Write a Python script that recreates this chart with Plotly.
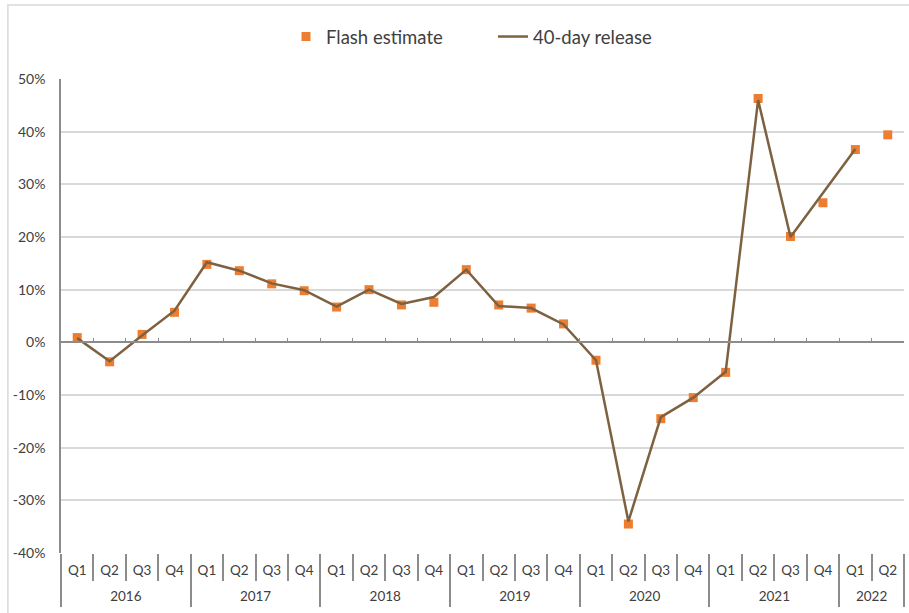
import plotly.graph_objects as go

years = ["2016"] * 4 + ["2017"] * 4 + ["2018"] * 4 + ["2019"] * 4 + ["2020"] * 4 + ["2021"] * 4 + ["2022"] * 2
quarters = ["Q1", "Q2", "Q3", "Q4"] * 6 + ["Q1", "Q2"]

flash_estimate = [0.9, -3.7, 1.5, 5.7, 14.8, 13.6, 11.1, 9.8, 6.7, 10.0, 7.1, 7.6,
                  13.8, 7.1, 6.5, 3.5, -3.4, -34.5, -14.5, -10.5, -5.7, 46.3, 20.1, 26.5,
                  36.6, 39.4]
release_40day = [0.8, -3.6, 1.3, 6.0, 15.2, 13.6, 11.2, 9.9, 6.8, 10.0, 7.3, 8.6,
                 13.8, 6.9, 6.5, 3.4, -3.4, -34.0, -14.2, -10.5, -5.6, 46.0, 20.0, 28.3,
                 36.7]

y_tickvals = [-40, -30, -20, -10, 0, 10, 20, 30, 40, 50]
y_ticktext = ["-40%", "-30%", "-20%", "-10%", "0%", "10%", "20%", "30%", "40%", "50%"]

n = len(quarters)
idx = list(range(n))
q_bounds = [i - 0.5 for i in range(n + 1)]

# year groups
year_names, year_mid, year_bounds = [], [], [-0.5]
start = 0
for i in range(1, n + 1):
    if i == n or years[i] != years[start]:
        year_names.append(years[start])
        year_mid.append((start + i - 1) / 2)
        year_bounds.append(i - 0.5)
        start = i

FONT = "Lato"
TXT = "#404040"
AX = "#8c8c8c"
GRID = "#d9d9d9"
XR = [-0.5, n - 0.5]

fig = go.Figure()

# invisible helper trace so that the year-row axis is drawn
fig.add_trace(go.Scatter(
    x=idx, y=flash_estimate, mode="markers", marker=dict(opacity=0, size=1),
    xaxis="x3", yaxis="y", showlegend=False, hoverinfo="skip",
))

fig.add_trace(go.Scatter(
    x=idx[:len(release_40day)], y=release_40day, mode="lines", name="40-day release",
    line=dict(color="#7E6140", width=2.5),
    xaxis="x2", yaxis="y",
))

fig.add_trace(go.Scatter(
    x=idx, y=flash_estimate, mode="markers", name="Flash estimate",
    marker=dict(symbol="square", size=9, color="#ED7D31"),
    xaxis="x", yaxis="y",
))

fig.update_layout(
    width=909, height=613,
    margin=dict(l=61, r=5, t=79, b=60, autoexpand=False),
    paper_bgcolor="white", plot_bgcolor="white",
    font=dict(family=FONT, size=13, color=TXT),
    showlegend=True,
    legend=dict(orientation="h", x=(286 - 61) / 843, xanchor="left", y=1 + (79 - 37) / 474,
                yanchor="middle", font=dict(size=18.5, color=TXT), traceorder="reversed",
                entrywidth=162, entrywidthmode="pixels"),
    # quarter row
    xaxis=dict(
        range=XR, automargin=False,
        showgrid=False, showline=False, zeroline=False,
        tickmode="array", tickvals=idx, ticktext=quarters, ticks="",
        ticklabelstandoff=7,
        tickfont=dict(family=FONT, size=13.5, color=TXT),
        minor=dict(tickmode="array", tickvals=q_bounds, ticks="outside", ticklen=27,
                   tickcolor=AX, tickwidth=1.5, showgrid=False),
    ),
    # axis line at zero with small inward ticks
    xaxis2=dict(
        overlaying="x", anchor="free", position=4 / 9,
        range=XR, automargin=False,
        showgrid=False, showticklabels=False, showline=True, linecolor=AX, linewidth=1.5,
        tickmode="array", tickvals=q_bounds, ticks="inside", ticklen=4, tickcolor=AX, tickwidth=1,
        zeroline=False,
    ),
    # year row
    xaxis3=dict(
        overlaying="x", anchor="y", side="bottom",
        range=XR, automargin=False,
        showgrid=False, showline=False, zeroline=False,
        tickmode="array", tickvals=year_mid, ticktext=year_names, ticks="",
        ticklabelstandoff=33,
        tickfont=dict(family=FONT, size=13.5, color=TXT),
        minor=dict(tickmode="array", tickvals=year_bounds, ticks="outside", ticklen=53,
                   tickcolor=AX, tickwidth=1.5, showgrid=False),
    ),
    yaxis=dict(
        range=[-40, 50], tickvals=y_tickvals, ticktext=y_ticktext, automargin=False,
        showgrid=True, gridcolor=GRID, gridwidth=1.5,
        showline=True, linecolor=AX, linewidth=1.5, zeroline=False,
        ticklabelstandoff=11,
        tickfont=dict(family=FONT, size=14, color=TXT),
    ),
    shapes=[dict(type="rect", xref="paper", yref="paper",
                 x0=-0.063, x1=1.2, y0=-0.2, y1=1.156,
                 line=dict(color=GRID, width=1.5), fillcolor="rgba(0,0,0,0)", layer="below")],
)

fig.write_html("out.html", config={"displayModeBar": False},
               post_script="document.body.style.margin='0';document.body.style.overflow='hidden';")
